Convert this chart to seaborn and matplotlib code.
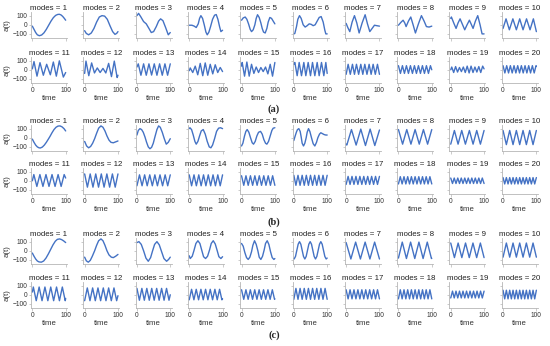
import matplotlib
matplotlib.use("Agg")
import matplotlib.pyplot as plt
import seaborn as sns
import pandas as pd

# values (extrema and a few in-between points per curve)
modes = list(range(1, 21))
panel_labels = ["(a)", "(b)", "(c)"]

a_t = [
    [0, 5, 10, 15, 21, 28, 35, 42, 49, 56, 63, 70, 76, 81, 86, 91, 96, 100],
    [0, 5, 12, 20, 28, 36, 44, 52, 60, 68, 76, 84, 91, 96, 100],
    [0, 5, 12, 20, 28, 36, 43, 50, 58, 65, 71, 78, 86, 94, 100],
    [0, 8, 15, 21, 27, 31, 35, 40, 45, 50, 54, 59, 64, 70, 76, 81, 86, 91, 95, 100],
    [0, 5, 11, 16, 21, 26, 30, 35, 40, 44, 48, 53, 58, 62, 66, 71, 76, 80, 85, 90, 95, 100],
    [0, 3, 8, 12, 17, 22, 28, 34, 40, 46, 52, 58, 64, 70, 76, 82, 88, 93, 96, 100],
    [0, 5, 11, 18, 25, 32, 39, 48, 57, 64, 71, 78, 85, 92, 100],
    [0, 7, 14, 19, 23, 30, 37, 44, 51, 60, 69, 77, 84, 92, 100],
    [0, 2, 9, 16, 22, 28, 35, 42, 49, 56, 61, 67, 74, 81, 88, 94, 100],
    [0, 9, 19, 29.5, 40, 50, 60, 70.5, 81, 91, 100],
    [0, 5, 14, 23, 33, 43, 54, 63, 72, 81, 93, 100],
    [0, 4, 12.5, 21, 29.5, 38, 46.5, 55, 63.5, 72, 80.5, 89, 97.5, 100],
    [0, 4, 12, 20, 28, 36, 44, 52, 60, 68, 76, 84, 92, 100],
    [0, 3, 10.5, 18, 25.5, 33, 40.5, 48, 55.5, 63, 70.5, 78, 85.5, 93, 100],
    [0, 2, 9, 16, 23, 30, 37, 44, 51, 58, 65, 72, 79, 86, 93, 100],
    [0, 3, 10, 16, 23, 30, 36, 43, 50, 56, 63, 70, 76, 83, 90, 96, 100],
    [0, 6, 12.5, 19, 25, 31, 37.5, 44, 50, 56, 62.5, 69, 75, 81, 87.5, 94, 100],
    [0, 6, 12, 18, 24, 30, 36, 42, 48, 54, 60, 66, 72, 78, 84, 90, 96, 100],
    [0, 3, 8.8, 14.6, 20.4, 26.2, 32, 37.8, 43.6, 49.4, 55.2, 61, 66.8, 72.6, 78.4, 84.2, 90, 95.8, 100],
    [0, 5.5, 11, 16.5, 22, 27.5, 33, 38.5, 44, 49.5, 55, 60.5, 66, 71.5, 77, 82.5, 88, 93.5, 99, 100],
]
a_y = [
    [-15, -50, -85, -110, -120, -112, -88, -50, -5, 40, 78, 103, 113, 115, 108, 92, 70, 50],
    [-65, -95, -110, -90, -40, 30, 85, 100, 95, 60, -10, -75, -105, -95, -75],
    [100, 125, 85, 35, 10, -40, -85, -75, -20, 40, 65, 45, -30, -110, -85],
    [-5, -5, -15, -30, 10, 70, 100, 70, 0, -80, -110, -80, -20, 60, 105, 112, 60, -20, -75, -60],
    [50, 75, 85, 60, 10, -50, -75, -55, 0, 70, 110, 80, 20, -40, -80, -90, -40, 30, 80, 70, 40, 10],
    [-100, -95, -20, 60, 100, 70, 0, -25, -10, 10, 5, -10, 0, 40, 80, 90, 30, -60, -100, -100],
    [15, -30, -75, 30, 100, 20, -90, 20, 110, 10, -75, -40, -5, -10, -15],
    [-5, 25, 50, 20, -20, 40, 85, 0, -90, 10, 100, 40, -20, -25, -15],
    [70, 85, 20, -40, 20, 65, 5, -55, 0, 50, 10, -40, 40, 100, 0, -100, -100],
    [-40, 65, -55, 65, -55, 65, -55, 65, -55, 65, -75],
    [10, 90, -70, 78, -60, 60, -55, 85, -70, 98, -80, -30],
    [-40, 95, -65, 75, -35, 20, -30, 15, -35, 70, -75, 95, -85, -60],
    [30, 65, -60, 65, -60, 65, -58, 65, -60, 65, -60, 65, -60, 65],
    [-10, 20, -30, 40, -55, 70, -65, 75, -60, 60, -45, 55, -30, 25, -20],
    [40, 80, -70, 85, -70, 60, -40, 30, -30, 25, -20, 30, -45, 60, -70, 80],
    [60, 80, -65, 80, -65, 80, -65, 80, -65, 80, -65, 80, -65, 80, -65, 80, -40],
    [-50, 60, -50, 60, -50, 60, -50, 60, -50, 60, -50, 60, -50, 60, -50, 60, -50],
    [45, -40, 45, -40, 45, -40, 45, -40, 45, -40, 45, -40, 45, -40, 45, -40, 45, 0],
    [0, 30, -30, 35, -25, 25, -20, 30, -30, 40, -35, 40, -30, 30, -25, 35, -30, 40, 10],
    [45, -35, 45, -35, 45, -35, 45, -35, 45, -35, 45, -35, 45, -35, 45, -35, 45, -35, 45, 40],
]

b_t = [
    [0, 5, 10, 15, 20, 24, 30, 36, 42, 48, 53, 59, 65, 71, 77, 83, 89, 95, 100],
    [0, 6, 12, 18, 24, 30, 36, 42, 49, 55, 61, 67, 73, 79, 86, 93, 100],
    [0, 4, 9, 14, 19, 24, 29, 34, 39, 44, 49, 54, 60, 65, 70, 76, 82, 88, 94, 100],
    [0, 2, 7, 12, 17, 21, 26, 31, 36, 42, 48, 54, 60, 65, 70, 76, 82, 88, 94, 100],
    [0, 4, 9, 13, 17, 22, 27, 32, 36, 41, 46, 51, 57, 62, 67, 72, 76, 81, 86, 91, 95, 100],
    [0, 4, 8, 11, 15, 19, 22, 25, 29, 33, 37, 40, 44, 48, 53, 58, 63, 68, 72, 77, 81, 86, 91, 96, 100],
    [0, 2, 16, 30, 44, 58, 72, 86, 100],
    [0, 12.5, 25, 37.5, 50, 62.5, 75, 87.5, 100],
    [0, 11, 22, 33, 44, 56, 67, 78, 89, 100],
    [0, 10, 20, 30, 40, 50, 60, 70, 80, 90, 100],
    [0, 4.5, 13.6, 22.7, 31.8, 40.9, 50, 59.1, 68.2, 77.3, 86.4, 95.5, 100],
    [0, 8.3, 16.7, 25, 33.3, 41.7, 50, 58.3, 66.7, 75, 83.3, 91.7, 100],
    [0, 7.7, 15.4, 23.1, 30.8, 38.5, 46.2, 53.8, 61.5, 69.2, 76.9, 84.6, 92.3, 100],
    [0, 7.1, 14.3, 21.4, 28.6, 35.7, 42.9, 50, 57.1, 64.3, 71.4, 78.6, 85.7, 92.9, 100],
    [0, 6.7, 13.3, 20, 26.7, 33.3, 40, 46.7, 53.3, 60, 66.7, 73.3, 80, 86.7, 93.3, 100],
    [0, 6.25, 12.5, 18.75, 25, 31.25, 37.5, 43.75, 50, 56.25, 62.5, 68.75, 75, 81.25, 87.5, 93.75, 100],
    [0, 5.9, 11.8, 17.6, 23.5, 29.4, 35.3, 41.2, 47.1, 52.9, 58.8, 64.7, 70.6, 76.5, 82.4, 88.2, 94.1, 100],
    [0, 5.6, 11.1, 16.7, 22.2, 27.8, 33.3, 38.9, 44.4, 50, 55.6, 61.1, 66.7, 72.2, 77.8, 83.3, 88.9, 94.4, 100],
    [0, 5.3, 10.5, 15.8, 21.1, 26.3, 31.6, 36.8, 42.1, 47.4, 52.6, 57.9, 63.2, 68.4, 73.7, 78.9, 84.2, 89.5, 94.7, 100],
    [0, 5, 10, 15, 20, 25, 30, 35, 40, 45, 50, 55, 60, 65, 70, 75, 80, 85, 90, 95, 100],
]
b_y = [
    [-15, -50, -80, -100, -110, -112, -102, -80, -50, -15, 15, 55, 90, 115, 128, 130, 120, 100, 75],
    [-40, -90, -110, -95, -60, -10, 50, 105, 130, 115, 75, 20, -25, -50, -55, -45, -35],
    [30, 80, 100, 90, 60, 10, -50, -100, -120, -105, -60, 10, 90, 130, 115, 60, -10, -70, -50, -10],
    [100, 110, 90, 30, -40, -70, -40, 20, 75, 90, 40, -40, -100, -110, -80, -10, 70, 105, 110, 100],
    [-90, -60, 20, 70, 90, 60, 0, -55, -70, -40, 20, 60, 70, 40, -20, -60, -70, -40, 20, 80, 105, 110],
    [-30, 20, 65, 90, 100, 70, 10, -60, -90, -60, 0, 60, 100, 70, 0, -65, -90, -50, 0, 40, 55, 45, 35, 30, 30],
    [-70, -80, 90, -80, 95, -85, 95, -85, 85],
    [90, -70, 90, -70, 90, -70, 90, -70, 90],
    [-70, 80, -70, 80, -70, 80, -70, 80, -70, 80],
    [80, -75, 80, -75, 80, -75, 80, -75, 80, -75, 80],
    [0, 68, -62, 68, -62, 68, -62, 68, -62, 68, -62, 68, 30],
    [75, -70, 75, -70, 75, -70, 75, -70, 75, -70, 75, -70, 75],
    [-55, 65, -55, 65, -55, 65, -55, 65, -55, 65, -55, 65, -55, 65],
    [65, -55, 65, -55, 65, -55, 65, -55, 65, -55, 65, -55, 65, -55, 65],
    [55, -50, 55, -50, 55, -50, 55, -50, 55, -50, 55, -50, 55, -50, 55, -50],
    [60, -50, 60, -50, 60, -50, 60, -50, 60, -50, 60, -50, 60, -50, 60, -50, 60],
    [-40, 48, -40, 48, -40, 48, -40, 48, -40, 48, -40, 48, -40, 48, -40, 48, -40, 48],
    [-35, 45, -35, 45, -35, 45, -35, 45, -35, 45, -35, 45, -35, 45, -35, 45, -35, 45, -35],
    [30, -30, 30, -30, 30, -30, 30, -30, 30, -30, 30, -30, 30, -30, 30, -30, 30, -30, 30, -30],
    [35, -35, 35, -35, 35, -35, 35, -35, 35, -35, 35, -35, 35, -35, 35, -35, 35, -35, 35, -35, 35],
]

c_t = [
    [0, 5, 10, 15, 20, 27, 34, 41, 48, 55, 62, 69, 75, 82, 88, 94, 100],
    [0, 5, 11, 17, 23, 30, 36, 42, 49, 55, 61, 67, 73, 80, 86, 93, 100],
    [0, 6, 13, 20, 27, 34, 41, 47, 53, 60, 67, 74, 81, 89, 95, 100],
    [0, 3, 9, 14, 20, 26, 32, 38, 43, 49, 55, 61, 66, 72, 78, 84, 89, 95, 100],
    [0, 5, 10, 15, 20, 25, 30, 34, 39, 44, 49, 53, 58, 63, 68, 72, 77, 82, 87, 92, 97, 100],
    [0, 1, 5, 13, 17, 21, 29, 33, 37, 45, 49, 53, 61, 65, 69, 77, 81, 85, 93, 97, 100],
    [0, 14.2, 28.5, 42.8, 57, 71.3, 85.5, 100],
    [0, 11.5, 24, 36.5, 49, 61.5, 74, 86.5, 99, 100],
    [0, 11.1, 22.2, 33.3, 44.4, 55.6, 66.7, 77.8, 88.9, 100],
    [0, 10, 20, 30, 40, 50, 60, 70, 80, 90, 100],
    [0, 3, 11.7, 20.4, 29.1, 37.8, 46.5, 55.2, 63.9, 72.6, 81.3, 90, 98.7, 100],
    [0, 8, 16, 24, 32, 40, 48, 56, 64, 72, 80, 88, 96, 100],
    [0, 7.4, 14.8, 22.2, 29.6, 37, 44.4, 51.8, 59.2, 66.6, 74, 81.4, 88.8, 96.2, 100],
    [0, 7, 14, 21, 28, 35, 42, 49, 56, 63, 70, 77, 84, 91, 98, 100],
    [0, 6.6, 13.2, 19.8, 26.4, 33, 39.6, 46.2, 52.8, 59.4, 66, 72.6, 79.2, 85.8, 92.4, 99, 100],
    [0, 6.25, 12.5, 18.75, 25, 31.25, 37.5, 43.75, 50, 56.25, 62.5, 68.75, 75, 81.25, 87.5, 93.75, 100],
    [0, 5.9, 11.8, 17.6, 23.5, 29.4, 35.3, 41.2, 47.1, 52.9, 58.8, 64.7, 70.6, 76.5, 82.4, 88.2, 94.1, 100],
    [0, 5.6, 11.1, 16.7, 22.2, 27.8, 33.3, 38.9, 44.4, 50, 55.6, 61.1, 66.7, 72.2, 77.8, 83.3, 88.9, 94.4, 100],
    [0, 5.3, 10.5, 15.8, 21.1, 26.3, 31.6, 36.8, 42.1, 47.4, 52.6, 57.9, 63.2, 68.4, 73.7, 78.9, 84.2, 89.5, 94.7, 100],
    [0, 5, 10, 15, 20, 25, 30, 35, 40, 45, 50, 55, 60, 65, 70, 75, 80, 85, 90, 95, 100],
]
c_y = [
    [-25, -60, -90, -112, -122, -125, -112, -80, -35, 15, 65, 105, 125, 130, 122, 108, 90],
    [-70, -110, -125, -105, -60, 0, 60, 110, 130, 110, 60, 0, -45, -70, -75, -60, -40],
    [90, 100, 70, 0, -80, -115, -75, 0, 70, 100, 65, -10, -85, -115, -95, -70],
    [-55, -85, -60, 0, 80, 110, 80, 0, -65, -85, -60, 10, 80, 110, 75, 0, -65, -85, -65],
    [80, 50, -20, -75, -95, -70, -10, 60, 110, 70, 0, -70, -95, -60, 10, 80, 110, 70, -10, -75, -95, -85],
    [-85, -90, -62, 72, 100, 72, -62, -90, -62, 72, 100, 72, -62, -90, -62, 72, 100, 72, -62, -90, -80],
    [90, -90, 95, -90, 95, -90, 95, -90],
    [-80, 95, -85, 95, -85, 95, -85, 95, -85, -83],
    [85, -75, 85, -75, 85, -75, 85, -75, 85, -75],
    [-70, 85, -70, 85, -70, 85, -70, 85, -70, 85, -70],
    [30, 85, -65, 85, -65, 85, -65, 85, -65, 85, -65, 85, -65, -40],
    [-65, 75, -65, 75, -65, 75, -65, 75, -65, 75, -65, 75, -65, -10],
    [70, -60, 70, -60, 70, -60, 70, -60, 70, -60, 70, -60, 70, -60, 0],
    [-55, 60, -55, 60, -55, 60, -55, 60, -55, 60, -55, 60, -55, 60, -55, -45],
    [55, -50, 55, -50, 55, -50, 55, -50, 55, -50, 55, -50, 55, -50, 55, -50, -45],
    [-50, 70, -50, 70, -50, 70, -50, 70, -50, 70, -50, 70, -50, 70, -50, 70, -50],
    [55, -45, 55, -45, 55, -45, 55, -45, 55, -45, 55, -45, 55, -45, 55, -45, 55, -45],
    [-45, 55, -45, 55, -45, 55, -45, 55, -45, 55, -45, 55, -45, 55, -45, 55, -45, 55, -45],
    [-35, 40, -35, 40, -35, 40, -35, 40, -35, 40, -35, 40, -35, 40, -35, 40, -35, 40, -35, 40],
    [50, -45, 50, -45, 50, -45, 50, -45, 50, -45, 50, -45, 50, -45, 50, -45, 50, -45, 50, -45, 50],
]

sns.set_theme(style="ticks")
plt.rcParams["font.family"] = ["Liberation Sans", "DejaVu Sans"]

LINE = "#4472c4"
SPINE = "#b5b5b5"
TEXT = "#333333"

rows = []
for panel, ts, ys in zip(panel_labels, [a_t, b_t, c_t], [a_y, b_y, c_y]):
    for m, t, y in zip(modes, ts, ys):
        for ti, yi in zip(t, y):
            rows.append((panel, m, ti, yi))
df = pd.DataFrame(rows, columns=["panel", "modes", "time", "a(t)"])

W, H = 550, 346
fig = plt.figure(figsize=(W / 100, H / 100), dpi=100)
fig.patch.set_facecolor("white")

row_tops = {"(a)": (12, 57), "(b)": (125, 168), "(c)": (238, 282)}
label_y = {"(a)": 109, "(b)": 222, "(c)": 335}

for panel in panel_labels:
    for r in range(2):
        for c in range(10):
            m = r * 10 + c + 1
            left = 31 + 52.3 * c
            top = row_tops[panel][r]
            ax = fig.add_axes([left / W, 1 - (top + 26) / H, 36 / W, 26 / H])
            sub = df[(df["panel"] == panel) & (df["modes"] == m)]
            sns.lineplot(data=sub, x="time", y="a(t)", ax=ax, color=LINE,
                         linewidth=1.0, estimator=None, sort=False)
            ax.set_xlim(-4, 104)
            ax.set_ylim(-145, 140)
            ax.set_xticks([0, 100])
            ax.set_yticks([-100, 0, 100])
            sns.despine(ax=ax)
            for s in ["left", "bottom"]:
                ax.spines[s].set_color(SPINE)
                ax.spines[s].set_linewidth(0.6)
            ax.tick_params(length=1.8, width=0.5, color=SPINE, labelsize=4.8,
                           labelcolor=TEXT, pad=1,
                           labelleft=(c == 0), labelbottom=(r == 1))
            ax.set_title(f"modes = {m}", fontsize=5.7, pad=1.5, color="#222222")
            if c == 0:
                ax.set_ylabel("a(t)", fontsize=5.6, labelpad=1, color=TEXT)
            else:
                ax.set_ylabel("")
            if r == 1:
                ax.set_xlabel("time", fontsize=5.6, labelpad=1, color=TEXT)
            else:
                ax.set_xlabel("")
    fig.text(274 / W, 1 - label_y[panel] / H, panel, ha="center", va="center",
             fontsize=7.5, fontweight="bold", family=["Liberation Serif", "DejaVu Serif"])

fig.savefig("out.png", dpi=100, facecolor="white")
